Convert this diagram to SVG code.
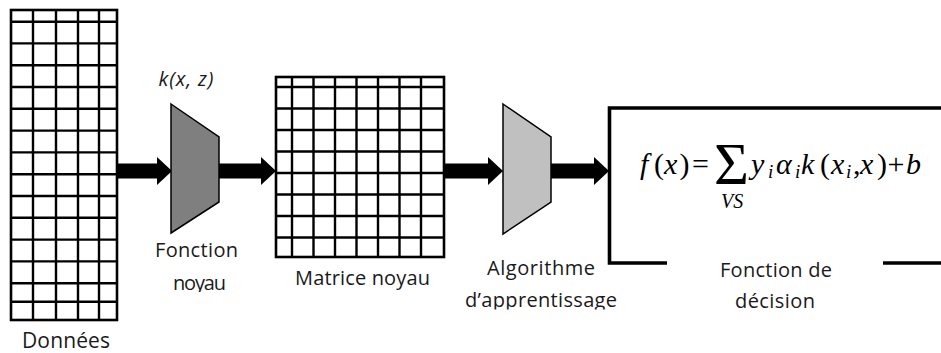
<svg xmlns="http://www.w3.org/2000/svg" width="941" height="353" viewBox="0 0 941 353">
  <style>
    .grid line { stroke: #000; stroke-width: 2.4; }
    .frame { fill: none; stroke: #000; stroke-width: 2.6; }
    .lbl { font-family: "Open Sans", "Liberation Sans", sans-serif; font-size: 20px; fill: #1a1a1a; text-anchor: middle; }
    .it { font-style: italic; }
    .math { font-family: "Liberation Serif", "Times New Roman", serif; font-size: 30px; fill: #000; }
    .mi { font-style: italic; }
    .sub { font-family: "Liberation Serif", "Times New Roman", serif; font-size: 19px; font-style: italic; fill: #000; }
    .sigma { font-family: "Liberation Serif", "Times New Roman", serif; font-size: 60px; fill: #000; }
    .stage { stroke: #000; stroke-width: 1.5; stroke-linejoin: miter; }
    .flow { stroke: #000; stroke-width: 15; fill: none; marker-end: url(#head); }
  </style>
  <defs>
    <marker id="head" markerUnits="userSpaceOnUse" viewBox="0 0 15 28" refX="0" refY="14" markerWidth="15" markerHeight="28" orient="auto">
      <path d="M0,0 L15,14 L0,28 Z" fill="#000"/>
    </marker>
    <clipPath id="clipNoyau"><rect x="150" y="262" width="100" height="30"/></clipPath>
    <clipPath id="clipApp"><rect x="450" y="284" width="180" height="25.5"/></clipPath>
  </defs>
  <rect width="941" height="353" fill="#fff"/>

  <!-- connectors: thick block arrows between the stages -->
  <g id="connectors">
    <line class="flow" x1="117" y1="171" x2="157" y2="171"/>
    <line class="flow" x1="219" y1="171" x2="261" y2="171"/>
    <line class="flow" x1="444" y1="171" x2="488" y2="171"/>
    <line class="flow" x1="551" y1="171" x2="594" y2="171"/>
  </g>

  <!-- input data table -->
  <g id="donnees">
    <g class="grid">
      <line x1="33" y1="10" x2="33" y2="320"/>
      <line x1="56" y1="10" x2="56" y2="320"/>
      <line x1="78" y1="10" x2="78" y2="320"/>
      <line x1="99" y1="10" x2="99" y2="320"/>
      <line x1="11" y1="21.7" x2="117" y2="21.7"/>
      <line x1="11" y1="43.4" x2="117" y2="43.4"/>
      <line x1="11" y1="65.2" x2="117" y2="65.2"/>
      <line x1="11" y1="87" x2="117" y2="87"/>
      <line x1="11" y1="108.8" x2="117" y2="108.8"/>
      <line x1="11" y1="130.6" x2="117" y2="130.6"/>
      <line x1="11" y1="152.4" x2="117" y2="152.4"/>
      <line x1="11" y1="174.2" x2="117" y2="174.2"/>
      <line x1="11" y1="196" x2="117" y2="196"/>
      <line x1="11" y1="217.8" x2="117" y2="217.8"/>
      <line x1="11" y1="239.6" x2="117" y2="239.6"/>
      <line x1="11" y1="261.4" x2="117" y2="261.4"/>
      <line x1="11" y1="283.2" x2="117" y2="283.2"/>
      <line x1="11" y1="301.7" x2="117" y2="301.7"/>
    </g>
    <rect class="frame" x="11" y="10" width="106" height="310"/>
    <text class="lbl" x="66" y="348" style="font-size:21px" textLength="88">Données</text>
  </g>

  <!-- kernel function stage -->
  <g id="fonction-noyau">
    <text class="lbl it" x="186" y="86" textLength="55">k(x, z)</text>
    <polygon class="stage" points="171,104 219,137 219,202 171,233" fill="#7f7f7f"/>
    <text class="lbl" x="196.5" y="257" textLength="83">Fonction</text>
    <text class="lbl" x="199.5" y="290" textLength="53" clip-path="url(#clipNoyau)">noyau</text>
  </g>

  <!-- kernel matrix -->
  <g id="matrice-noyau">
    <g class="grid">
      <line x1="292" y1="77" x2="292" y2="257"/>
      <line x1="313.5" y1="77" x2="313.5" y2="257"/>
      <line x1="335" y1="77" x2="335" y2="257"/>
      <line x1="356.5" y1="77" x2="356.5" y2="257"/>
      <line x1="378" y1="77" x2="378" y2="257"/>
      <line x1="399.5" y1="77" x2="399.5" y2="257"/>
      <line x1="421" y1="77" x2="421" y2="257"/>
      <line x1="276" y1="87" x2="444" y2="87"/>
      <line x1="276" y1="108.5" x2="444" y2="108.5"/>
      <line x1="276" y1="130" x2="444" y2="130"/>
      <line x1="276" y1="151.5" x2="444" y2="151.5"/>
      <line x1="276" y1="173" x2="444" y2="173"/>
      <line x1="276" y1="194.5" x2="444" y2="194.5"/>
      <line x1="276" y1="216" x2="444" y2="216"/>
      <line x1="276" y1="237.5" x2="444" y2="237.5"/>
    </g>
    <rect class="frame" x="276" y="77" width="168" height="180"/>
    <text class="lbl" x="362.5" y="285" textLength="135">Matrice noyau</text>
  </g>

  <!-- learning algorithm stage -->
  <g id="algorithme">
    <polygon class="stage" points="503,104 551,137 551,202 503,234" fill="#c0c0c0"/>
    <text class="lbl" x="541" y="275" textLength="108">Algorithme</text>
    <text class="lbl" x="541" y="307" textLength="152" clip-path="url(#clipApp)">d’apprentissage</text>
  </g>

  <!-- decision function box -->
  <g id="fonction-decision">
    <path d="M943,108 H609.5 V263 H667" fill="none" stroke="#000" stroke-width="3.6"/>
    <path d="M883,263 H943" fill="none" stroke="#000" stroke-width="3.6"/>
    <text class="math mi" x="640" y="174">f</text>
    <text class="math" x="654" y="174">(</text>
    <text class="math mi" x="664" y="174">x</text>
    <text class="math" x="679.5" y="174">)</text>
    <text class="math" x="692" y="174">=</text>
    <text class="sigma" x="714" y="184">Σ</text>
    <text class="sub" x="721" y="208" style="font-size:20px">VS</text>
    <text class="math mi" x="751" y="174">y</text>
    <text class="sub" x="768" y="178">i</text>
    <text class="math mi" x="776" y="174">α</text>
    <text class="sub" x="795" y="178">i</text>
    <text class="math mi" x="801" y="174">k</text>
    <text class="math" x="820" y="174">(</text>
    <text class="math mi" x="831" y="174">x</text>
    <text class="sub" x="846" y="178">i</text>
    <text class="math" x="853" y="174">,</text>
    <text class="math mi" x="860" y="174">x</text>
    <text class="math" x="877" y="174">)</text>
    <text class="math" x="887.5" y="174">+</text>
    <text class="math mi" x="906" y="174">b</text>
    <text class="lbl" x="776" y="277" textLength="112">Fonction de</text>
    <text class="lbl" x="775" y="308" textLength="80">décision</text>
  </g>
</svg>
